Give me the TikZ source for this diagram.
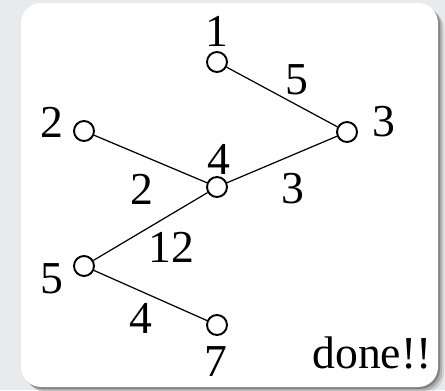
\documentclass[tikz,border=0pt]{standalone}
\usepackage{fontspec}
\setmainfont{Liberation Serif}
\usetikzlibrary{positioning}
\definecolor{bgpanel}{HTML}{E9EAEC}

\begin{document}
\begin{tikzpicture}[every node/.style={font=\fontsize{26}{30}\selectfont, inner sep=0pt},
  vtx/.style={draw, circle, minimum size=0.4cm, line width=1.1pt, fill=white},
  lbl/.style={anchor=center}]
  \useasboundingbox (0,0) rectangle (8.9,7.8);
  \fill[bgpanel] (0,0) rectangle (8.9,7.8);
  % soft shadow under the card
  \foreach \s/\o in {0.12/0.10, 0.08/0.16, 0.04/0.25}
    \fill[black, opacity=\o, rounded corners=0.4cm] (0.42+\s,0.06-\s) rectangle (8.76+\s,7.74-\s);
  \fill[white, rounded corners=0.4cm] (0.42,0.06) rectangle (8.76,7.74);
  \node[vtx] (n1) at (4.34,6.56) {};
  \node[vtx] (n2) at (1.68,5.18) {};
  \node[vtx] (n3) at (6.94,5.16) {};
  \node[vtx] (n4) at (4.34,4.06) {};
  \node[vtx] (n5) at (1.68,2.48) {};
  \node[vtx] (n7) at (4.34,1.30) {};
  \node[lbl] (l1) at (4.34,7.17) {1};
  \node[lbl] (l2) at (1.04,5.36) {2};
  \node[lbl] (l3) at (7.68,5.36) {3};
  \node[lbl] (l4) at (4.38,4.62) {4};
  \node[lbl] (l5) at (1.04,2.22) {5};
  \node[lbl] (l7) at (4.32,0.56) {7};
  \draw[line width=0.7pt] (n1) -- (n3) node[midway, xshift=0.30cm, yshift=0.34cm] {5};
  \draw[line width=0.7pt] (n2) -- (n4) node[midway, xshift=-0.17cm, yshift=-0.60cm] {2};
  \draw[line width=0.7pt] (n4) -- (n3) node[midway, xshift=0.22cm, yshift=-0.59cm] {3};
  \draw[line width=0.7pt] (n4) -- (n5) node[midway, xshift=0.41cm, yshift=-0.41cm] {12};
  \draw[line width=0.7pt] (n5) -- (n7) node[midway, xshift=-0.19cm, yshift=-0.45cm] {4};
  \node[lbl] (done) at (7.44,0.75) {done!!};
\end{tikzpicture}
\end{document}
